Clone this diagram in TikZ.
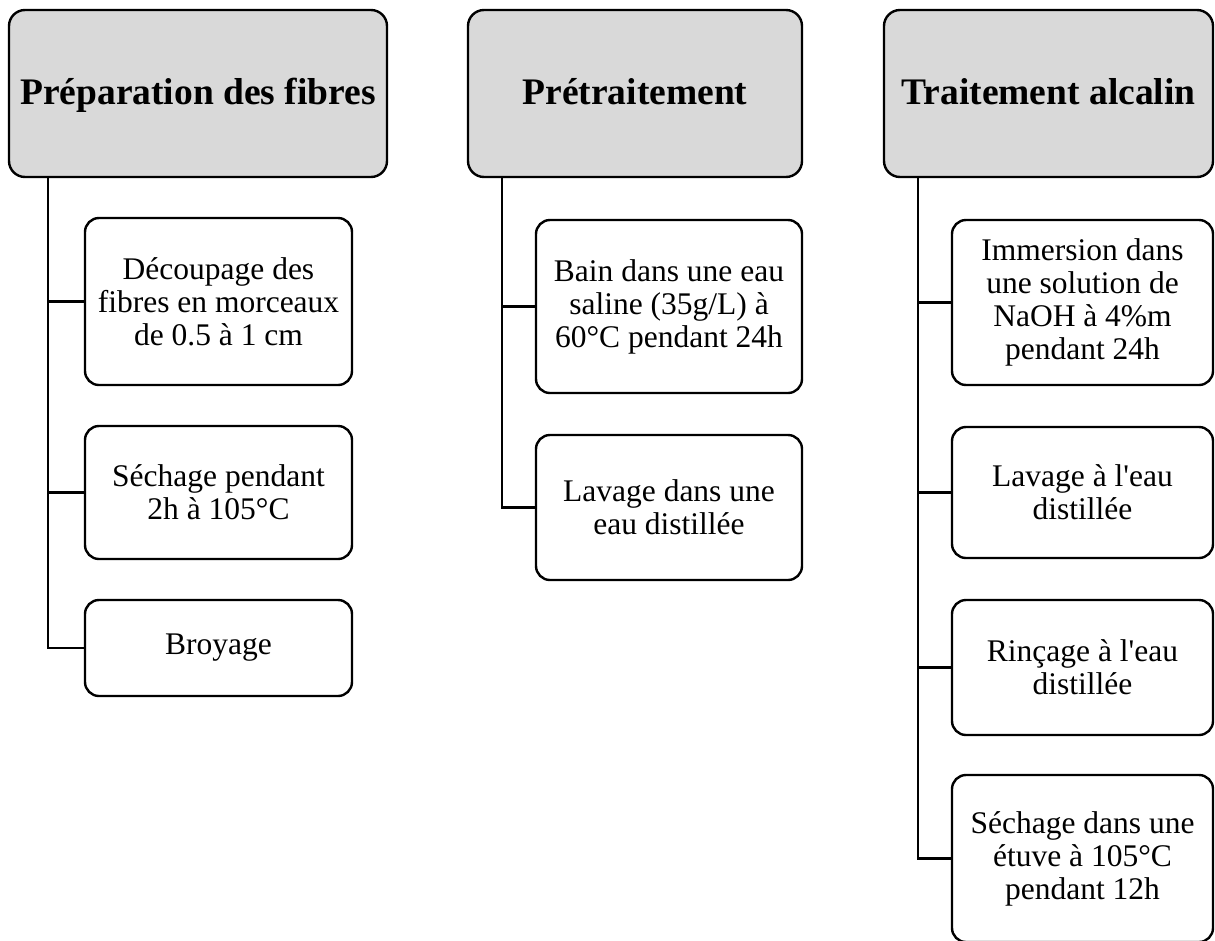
\documentclass[tikz,border=0pt]{standalone}
\usepackage{fontspec}
\setmainfont{Liberation Serif}
\definecolor{headgray}{HTML}{D9D9D9}
\begin{document}
\begin{tikzpicture}[x=1pt, y=-1pt,
    head/.style={draw, line width=2.4pt, rounded corners=16pt, fill=headgray,
      inner sep=0pt, outer sep=0pt, minimum height=167pt, text depth=4pt,
      font=\fontsize{37.5}{40}\selectfont\bfseries},
    stepbox/.style={draw, line width=2.4pt, rounded corners=14pt, fill=white,
      inner sep=0pt, outer sep=0pt, align=center,
      font=\fontsize{31.5}{33}\selectfont},
    link/.style={line width=2.6pt}]
    
    \useasboundingbox (0,0) rectangle (1215,940);
    
    % en-tetes
    \node[head, minimum width=378pt] (h1) at (198,93.5) {Préparation des fibres};
    \node[head, minimum width=334pt] (h2) at (635,93.5) {Prétraitement};
    \node[head, minimum width=329pt] (h3) at (1048.5,93.5) {Traitement alcalin};
    
    % etapes
    \node[stepbox, minimum width=267pt, minimum height=167pt] (p11) at (218.5,301.5)
      {Découpage des\\fibres en morceaux\\de 0.5 à 1 cm};
    \node[stepbox, minimum width=267pt, minimum height=133pt] (p12) at (218.5,492.5)
      {Séchage pendant\\2h à 105°C};
    \node[stepbox, minimum width=267pt, minimum height=96pt] (p13) at (218.5,648)
      {Broyage};
    
    \node[stepbox, minimum width=266pt, minimum height=173pt] (p21) at (669,306.5)
      {Bain dans une eau\\saline (35g/L) à\\60°C pendant 24h};
    \node[stepbox, minimum width=266pt, minimum height=145pt] (p22) at (669,507.5)
      {Lavage dans une\\eau distillée};
    
    \node[stepbox, minimum width=261pt, minimum height=165pt] (p31) at (1082.5,302.5)
      {Immersion dans\\une solution de\\NaOH à 4\%m\\pendant 24h};
    \node[stepbox, minimum width=261pt, minimum height=131pt] (p32) at (1082.5,492.5)
      {Lavage à l\textquotesingle eau\\distillée};
    \node[stepbox, minimum width=261pt, minimum height=135pt] (p33) at (1082.5,667.5)
      {Rinçage à l\textquotesingle eau\\distillée};
    \node[stepbox, minimum width=261pt, minimum height=167pt] (p34) at (1082.5,858.5)
      {Séchage dans une\\étuve à 105°C\\pendant 12h};
    
    % liaisons
    \coordinate (s1) at ([xshift=39pt]h1.south west);
    \coordinate (s2) at ([xshift=34pt]h2.south west);
    \coordinate (s3) at ([xshift=34pt]h3.south west);
    \foreach \b in {p11,p12,p13}
    \draw[link] (s1) |- (\b.west);
    \foreach \b in {p21,p22}
    \draw[link] (s2) |- (\b.west);
    \foreach \b in {p31,p32,p33,p34}
    \draw[link] (s3) |- (\b.west);
    
\end{tikzpicture}
\end{document}
